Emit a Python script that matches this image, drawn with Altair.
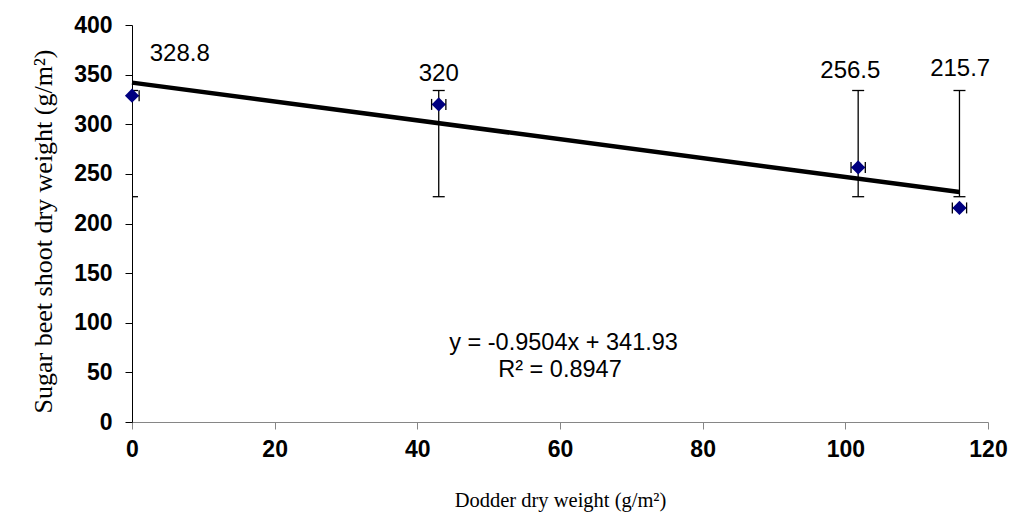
import altair as alt
import pandas as pd

# ---- data ----
dodder = [0, 43, 101.8, 116]            # Dodder dry weight (g/m2)
beet = [328.8, 320, 256.5, 215.7]       # Sugar beet shoot dry weight (g/m2)
err_low = [227, 227, 227, 227]
err_high = [334, 334, 334, 334]
x_err = [1.0, 1.0, 1.0, 1.0]
label_text = ["328.8", "320", "256.5", "215.7"]
label_x = [6.7, 43, 100.7, 116.1]
label_y = [363.7, 343.9, 346.6, 348.3]
slope = -0.9504
intercept = 341.93
eq_lines = ["y = -0.9504x + 341.93", "R\u00b2 = 0.8947"]
eq_x = [60.5, 60.0]
eq_y = [72.5, 45.3]
x_ticks = [0, 20, 40, 60, 80, 100, 120]
y_ticks = [0, 50, 100, 150, 200, 250, 300, 350, 400]

pts = pd.DataFrame({
    "x": dodder, "y": beet, "lo": err_low, "hi": err_high,
    "xl": [a - e for a, e in zip(dodder, x_err)],
    "xh": [a + e for a, e in zip(dodder, x_err)],
})
labels = pd.DataFrame({"x": label_x, "y": label_y, "t": label_text})
eq = pd.DataFrame({"x": eq_x, "y": eq_y, "t": eq_lines})
trend = pd.DataFrame({"x": [0, max(dodder)]})
trend["y"] = slope * trend["x"] + intercept

xs = alt.Scale(domain=[0, 120], nice=False, zero=False)
ys = alt.Scale(domain=[0, 400], nice=False)

xaxis = alt.Axis(values=x_ticks, title="Dodder dry weight (g/m\u00b2)", grid=False,
                 titleFont="Liberation Serif", titleFontSize=20.5, titleFontWeight="normal",
                 titleColor="black", titleY=84, titleBaseline="alphabetic",
                 labelFont="Liberation Sans", labelFontSize=23, labelFontWeight="bold",
                 labelColor="black", labelPadding=9, labelFlush=False,
                 domainColor="#868686", tickColor="#868686", tickSize=7)
yaxis = alt.Axis(values=y_ticks, title="Sugar beet shoot dry weight (g/m\u00b2)", grid=False,
                 titleFont="Liberation Serif", titleFontSize=26, titleFontWeight="normal",
                 titleColor="black", titleX=-89, titleY=206, titleAngle=-90,
                 titleAlign="center", titleBaseline="middle",
                 labelFont="Liberation Sans", labelFontSize=23, labelFontWeight="bold",
                 labelColor="black", labelPadding=13, labelFlush=False,
                 domainColor="black", tickColor="black", tickSize=7)

base = alt.Chart(pts)

line = alt.Chart(trend).mark_line(color="black", strokeWidth=4.5).encode(
    x=alt.X("x:Q", scale=xs, axis=xaxis),
    y=alt.Y("y:Q", scale=ys, axis=yaxis),
)

vrule = base.mark_rule(color="black", strokeWidth=1.3, clip=True).encode(
    x=alt.X("x:Q", scale=xs), y=alt.Y("lo:Q", scale=ys), y2="hi:Q")
cap_lo = base.mark_tick(orient="horizontal", color="black", size=12, thickness=1.3,
                        clip=True, opacity=1).encode(
    x=alt.X("x:Q", scale=xs), y=alt.Y("lo:Q", scale=ys))
cap_hi = base.mark_tick(orient="horizontal", color="black", size=12, thickness=1.3,
                        clip=True, opacity=1).encode(
    x=alt.X("x:Q", scale=xs), y=alt.Y("hi:Q", scale=ys))
hrule = base.mark_rule(color="black", strokeWidth=1.3, clip=True).encode(
    x=alt.X("xl:Q", scale=xs), x2="xh:Q", y=alt.Y("y:Q", scale=ys))
cap_l = base.mark_tick(orient="vertical", color="black", size=11, thickness=1.3,
                       clip=True, opacity=1).encode(
    x=alt.X("xl:Q", scale=xs), y=alt.Y("y:Q", scale=ys))
cap_r = base.mark_tick(orient="vertical", color="black", size=11, thickness=1.3,
                       clip=True, opacity=1).encode(
    x=alt.X("xh:Q", scale=xs), y=alt.Y("y:Q", scale=ys))

points = base.mark_point(shape="diamond", filled=True, color="#000080", size=200,
                         opacity=1).encode(
    x=alt.X("x:Q", scale=xs), y=alt.Y("y:Q", scale=ys))

lab = alt.Chart(labels).mark_text(font="Liberation Sans", fontSize=24, color="black",
                                  align="center", baseline="alphabetic").encode(
    x=alt.X("x:Q", scale=xs), y=alt.Y("y:Q", scale=ys), text="t:N")

eqt = alt.Chart(eq).mark_text(font="Liberation Sans", fontSize=23.5, color="black",
                              align="center", baseline="alphabetic").encode(
    x=alt.X("x:Q", scale=xs), y=alt.Y("y:Q", scale=ys), text="t:N")

chart = alt.layer(line, vrule, cap_lo, cap_hi, hrule, cap_l, cap_r, points, lab, eqt).properties(
    width=856, height=397,
    autosize=alt.AutoSizeParams(type="none"),
    padding={"left": 124, "top": 17, "right": 20, "bottom": 91},
    background="white",
).configure_view(stroke=None)

chart.save("out.html", embed_options={"renderer": "svg", "actions": False})
